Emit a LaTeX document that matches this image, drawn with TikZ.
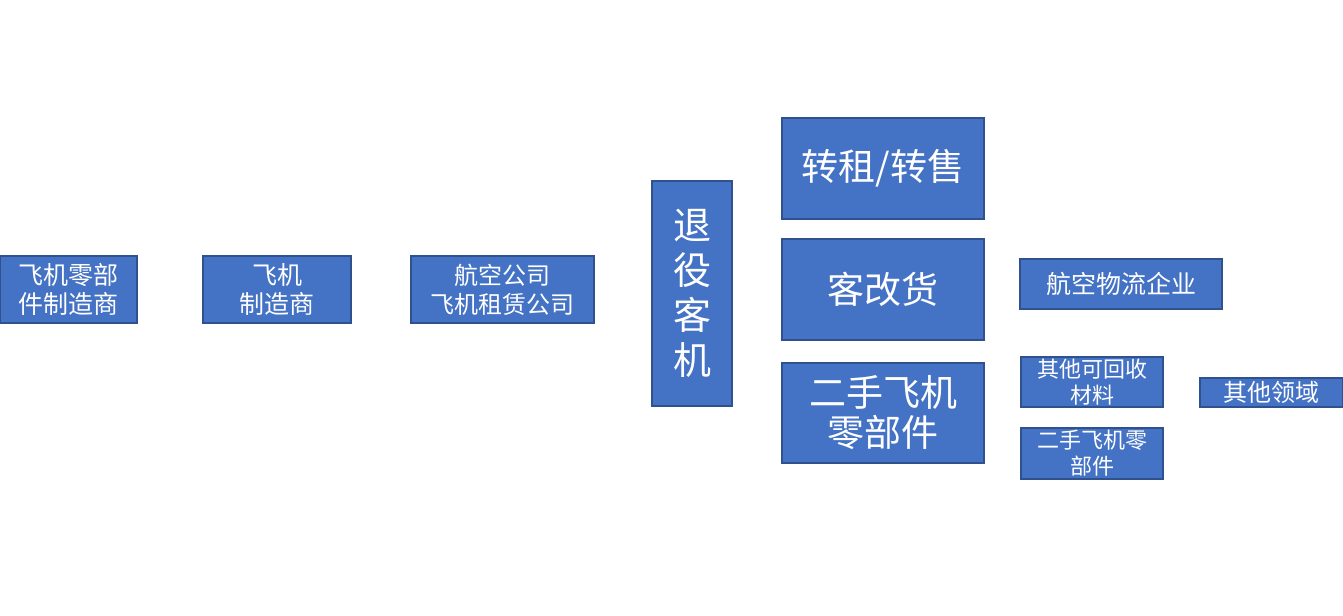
\documentclass[tikz,border=0pt]{standalone}
\usepackage{fontspec}
\usetikzlibrary{backgrounds}
\newfontfamily\cjk{Noto Sans CJK SC}
\definecolor{boxfill}{HTML}{4472C4}
\definecolor{boxline}{HTML}{2F528F}
\tikzset{
  box/.style={draw=boxline, fill=boxfill, line width=1.2pt, text=white, inner sep=0pt, align=center},
  link/.style={draw=white, line width=1pt},
  fA/.style={font=\cjk\fontsize{18.75pt}{21.75pt}\selectfont},
  fB/.style={font=\cjk\fontsize{18pt}{21.75pt}\selectfont},
  fD/.style={font=\cjk\fontsize{28.5pt}{33.75pt}\selectfont},
  fE/.style={font=\cjk\fontsize{27.75pt}{30pt}\selectfont},
  fS/.style={font=\cjk\fontsize{16.5pt}{19.5pt}\selectfont}
}
\begin{document}
\begin{tikzpicture}[x=0.75pt,y=-0.75pt]
\useasboundingbox (0,0) rectangle (1343,616);
\node[box,fA,minimum width=102.75pt,minimum height=50.25pt] (A) at (68.5,289.5) {飞机零部\\件制造商};
\node[box,fA,minimum width=111pt,minimum height=50.25pt] (B) at (277,289.5) {飞机\\制造商};
\node[box,fB,minimum width=137.25pt,minimum height=50.25pt] (C) at (502.5,289.5) {航空公司\\飞机租赁公司};
\node[box,fD,minimum width=60pt,minimum height=168.75pt] (D) at (692,293.5) {退\\役\\客\\机};
\node[box,fE,minimum width=151.5pt,minimum height=75.75pt] (E) at (883,168.5) {转租/转售};
\node[box,fE,minimum width=151.5pt,minimum height=75.75pt] (F) at (883,289.5) {客改货};
\node[box,fE,minimum width=151.5pt,minimum height=75pt] (G) at (883,413) {二手飞机\\零部件};
\node[box,fA,minimum width=151.5pt,minimum height=37.5pt] (H) at (1121,284) {航空物流企业};
\node[box,fS,minimum width=106.5pt,minimum height=37.5pt] (I) at (1092,382) {其他可回收\\材料};
\node[box,fS,minimum width=106.5pt,minimum height=38.25pt] (J) at (1092,453.5) {二手飞机零\\部件};
\node[box,fB,minimum width=107.25pt,minimum height=21.75pt] (K) at (1271.5,392.5) {其他领域};
\begin{scope}[on background layer]
\draw[link] (A.east) -- (B.west);
\draw[link] (B.east) -- (C.west);
\draw[link] (C.east) -- (D.west);
\draw[link] (D.east) -- (E.west);
\draw[link] (D.east) -- (F.west);
\draw[link] (D.east) -- (G.west);
\draw[link] (F.east) -- (H.west);
\draw[link] (G.east) -- (I.west);
\draw[link] (G.east) -- (J.west);
\draw[link] (I.east) -- (K.west);
\end{scope}
\end{tikzpicture}
\end{document}
